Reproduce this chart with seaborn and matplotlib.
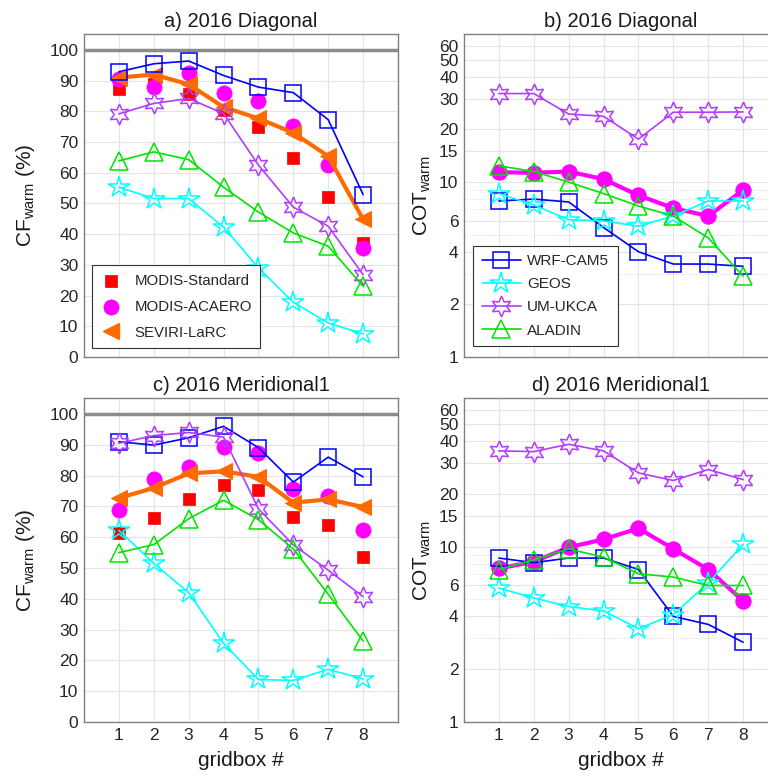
"""CF_warm and COT_warm per gridbox, 2016 Diagonal / Meridional1 transects."""

import matplotlib
matplotlib.use("Agg")
import matplotlib.pyplot as plt
import seaborn as sns

GRIDBOX = [1, 2, 3, 4, 5, 6, 7, 8]

# a) 2016 Diagonal, cloud fraction (%)
CF_DIAG = {
    "MODIS-Standard": [87.4, 89.0, 85.5, 80.5, 75.0, 64.9, 52.0, 37.0],
    "MODIS-ACAERO": [90.4, 87.9, 92.6, 86.1, 83.4, 75.2, 62.5, 35.4],
    "SEVIRI-LaRC": [91.0, 92.0, 88.8, 81.4, 77.7, 73.0, 65.4, 44.8],
    "WRF-CAM5": [92.9, 95.5, 96.4, 91.7, 87.9, 86.1, 77.3, 52.9],
    "GEOS": [55.3, 51.6, 51.6, 42.3, 29.0, 17.8, 11.1, 7.5],
    "UM-UKCA": [79.2, 82.6, 84.2, 79.3, 62.5, 48.8, 42.6, 26.8],
    "ALADIN": [63.9, 66.8, 64.3, 55.3, 47.2, 40.4, 36.1, 23.0],
}

# c) 2016 Meridional1, cloud fraction (%)
CF_MERID = {
    "MODIS-Standard": [61.4, 66.3, 72.5, 77.0, 75.4, 66.7, 64.0, 53.5],
    "MODIS-ACAERO": [68.7, 79.0, 82.8, 89.3, 87.2, 75.5, 73.4, 62.5],
    "SEVIRI-LaRC": [72.7, 76.0, 80.7, 81.4, 79.6, 71.2, 72.3, 69.8],
    "WRF-CAM5": [91.0, 89.9, 92.3, 96.0, 89.1, 77.9, 86.0, 79.6],
    "GEOS": [62.2, 51.5, 42.0, 25.5, 13.8, 13.5, 17.1, 14.0],
    "UM-UKCA": [90.5, 93.0, 94.0, 92.5, 69.2, 57.5, 49.3, 40.7],
    "ALADIN": [55.0, 57.6, 66.0, 72.0, 65.7, 56.2, 41.5, 26.3],
}

# b) 2016 Diagonal, cloud optical thickness
COT_DIAG = {
    "MODIS-ACAERO": [11.4, 11.3, 11.5, 10.4, 8.4, 7.1, 6.4, 9.0],
    "WRF-CAM5": [7.8, 8.0, 7.7, 5.5, 4.0, 3.4, 3.4, 3.3],
    "GEOS": [8.6, 7.4, 6.1, 6.0, 5.6, 6.4, 7.8, 7.8],
    "UM-UKCA": [32.1, 32.1, 24.5, 23.8, 17.6, 25.1, 25.1, 25.2],
    "ALADIN": [12.4, 11.5, 10.0, 8.6, 7.3, 6.4, 4.8, 2.9],
}

# d) 2016 Meridional1, cloud optical thickness
COT_MERID = {
    "MODIS-ACAERO": [7.5, 8.2, 9.9, 11.0, 12.7, 9.7, 7.4, 4.9],
    "WRF-CAM5": [8.6, 8.1, 8.6, 8.6, 7.4, 4.0, 3.6, 2.85],
    "GEOS": [5.8, 5.1, 4.55, 4.3, 3.4, 4.1, 6.2, 10.3],
    "UM-UKCA": [35.1, 34.8, 38.3, 35.1, 26.3, 23.8, 27.5, 24.1],
    "ALADIN": [7.4, 8.4, 9.7, 8.7, 7.0, 6.7, 6.0, 6.0],
}

COT_TICKS = [1, 2, 4, 6, 10, 15, 20, 30, 40, 50, 60]

OBS_STYLE = {
    "MODIS-Standard": dict(marker="s", color="#ff0000", s=75),
    "MODIS-ACAERO": dict(marker="o", color="#ff00ff", s=120),
}
SEVIRI_COLOR = "#ff6a00"
HEXAGRAM = (6, 1, 0)
MODEL_STYLE = {
    "WRF-CAM5": dict(color="#0000ff", marker="s", ms=11),
    "GEOS": dict(color="#00ffff", marker="*", ms=16),
    "UM-UKCA": dict(color="#b23cff", marker=HEXAGRAM, ms=15),
    "ALADIN": dict(color="#00e400", marker="^", ms=13),
}

sns.set_theme(style="whitegrid")
plt.rcParams["font.family"] = ["Liberation Sans", "DejaVu Sans"]
plt.rcParams["mathtext.fontset"] = "custom"
plt.rcParams["mathtext.rm"] = "Liberation Sans"
plt.rcParams["mathtext.it"] = "Liberation Sans:italic"

fig = plt.figure(figsize=(7.68, 7.76), dpi=100)
W, H = 314 / 768, 323 / 776
pos = {
    "a": [84 / 768, 1 - 357 / 776, W, H],
    "b": [464 / 768, 1 - 357 / 776, W, H],
    "c": [84 / 768, 1 - 722 / 776, W, 324 / 776],
    "d": [464 / 768, 1 - 722 / 776, W, 324 / 776],
}
axes = {k: fig.add_axes(p) for k, p in pos.items()}


def style_axes(ax, title):
    ax.set_xlim(0, 9)
    ax.set_xticks(GRIDBOX)
    ax.set_title(title, fontsize=14.5, pad=5, color="#1a1a1a")
    ax.tick_params(direction="in", length=3, width=0.6, color="#555555",
                   labelsize=12.5, pad=4, which="both", labelcolor="#262626")
    ax.tick_params(which="minor", length=0)
    ax.grid(True, which="major", color="#e4e4e4", lw=0.8)
    for sp in ax.spines.values():
        sp.set_color("#808080")
        sp.set_linewidth(1.0)
    ax.set_facecolor("white")


def draw_models(ax, data):
    handles = []
    for name, st in MODEL_STYLE.items():
        sns.lineplot(x=GRIDBOX, y=data[name], ax=ax, color=st["color"], lw=1.2,
                     marker=st["marker"], markersize=st["ms"],
                     markerfacecolor="none", markeredgecolor=st["color"],
                     markeredgewidth=1.1, label=name, legend=False, zorder=4)
        handles.append(ax.lines[-1])
    return handles


def cf_panel(ax, data, title, with_legend):
    ax.axhline(100, color="#8c8c8c", lw=2.5, zorder=2)
    obs = []
    for name, st in OBS_STYLE.items():
        sns.scatterplot(x=GRIDBOX, y=data[name], ax=ax, marker=st["marker"],
                        color=st["color"], edgecolor=st["color"], s=st["s"],
                        linewidth=0.5, label=name, legend=False, zorder=3)
        obs.append(ax.collections[-1])
    sns.lineplot(x=GRIDBOX, y=data["SEVIRI-LaRC"], ax=ax, color=SEVIRI_COLOR,
                 lw=3, marker="<", markersize=12, markeredgecolor=SEVIRI_COLOR,
                 label="SEVIRI-LaRC", legend=False, zorder=3)
    draw_models(ax, data)
    ax.set_ylim(0, 105.2)
    ax.set_yticks(range(0, 101, 10))
    ax.set_ylabel(r"CF$_{\rm warm}$ (%)", fontsize=15, color="#1a1a1a")
    ax.yaxis.set_label_coords(-0.15, 0.5)
    style_axes(ax, title)
    if with_legend:
        leg_handles = obs + [plt.Line2D([], [], ls="none", marker="<",
                                        ms=12, color=SEVIRI_COLOR)]
        leg = ax.legend(leg_handles, ["MODIS-Standard", "MODIS-ACAERO",
                                      "SEVIRI-LaRC"],
                        loc="lower left", bbox_to_anchor=(0.025, 0.028),
                        borderaxespad=0, fontsize=10.8, fancybox=False,
                        framealpha=1, edgecolor="#333333", handlelength=1.4,
                        handletextpad=0.9, borderpad=0.55, labelspacing=0.8)
        leg.get_frame().set_linewidth(0.8)


def cot_panel(ax, data, title, with_legend):
    sns.lineplot(x=GRIDBOX, y=data["MODIS-ACAERO"], ax=ax, color="#ff00ff",
                 lw=3, marker="o", markersize=11, markeredgecolor="#ff00ff",
                 legend=False, zorder=3)
    handles = draw_models(ax, data)
    ax.set_yscale("log")
    ax.set_ylim(1, 70.3)
    ax.set_yticks(COT_TICKS)
    ax.set_yticklabels([str(t) for t in COT_TICKS])
    ax.set_yticks([3, 5, 7, 8, 9], minor=True)
    ax.grid(True, which="minor", color="#d8d8d8", lw=0.7, ls=":")
    ax.set_ylabel(r"COT$_{\rm warm}$", fontsize=15, color="#1a1a1a")
    ax.yaxis.set_label_coords(-0.10, 0.5)
    style_axes(ax, title)
    if with_legend:
        leg = ax.legend(handles, list(MODEL_STYLE), loc="lower left",
                        bbox_to_anchor=(0.029, 0.034), borderaxespad=0,
                        fontsize=11, fancybox=False, framealpha=1,
                        edgecolor="#333333", handlelength=2.6,
                        handletextpad=0.4, borderpad=0.55, labelspacing=0.6)
        leg.get_frame().set_linewidth(0.8)


cf_panel(axes["a"], CF_DIAG, "a) 2016 Diagonal", True)
cot_panel(axes["b"], COT_DIAG, "b) 2016 Diagonal", True)
cf_panel(axes["c"], CF_MERID, "c) 2016 Meridional1", False)
cot_panel(axes["d"], COT_MERID, "d) 2016 Meridional1", False)

for k in ("a", "b"):
    axes[k].set_xticklabels([])
for k in ("c", "d"):
    axes[k].set_xlabel("gridbox #", fontsize=15, labelpad=6, color="#1a1a1a")

fig.savefig("out.png", dpi=100)
plt.close(fig)
